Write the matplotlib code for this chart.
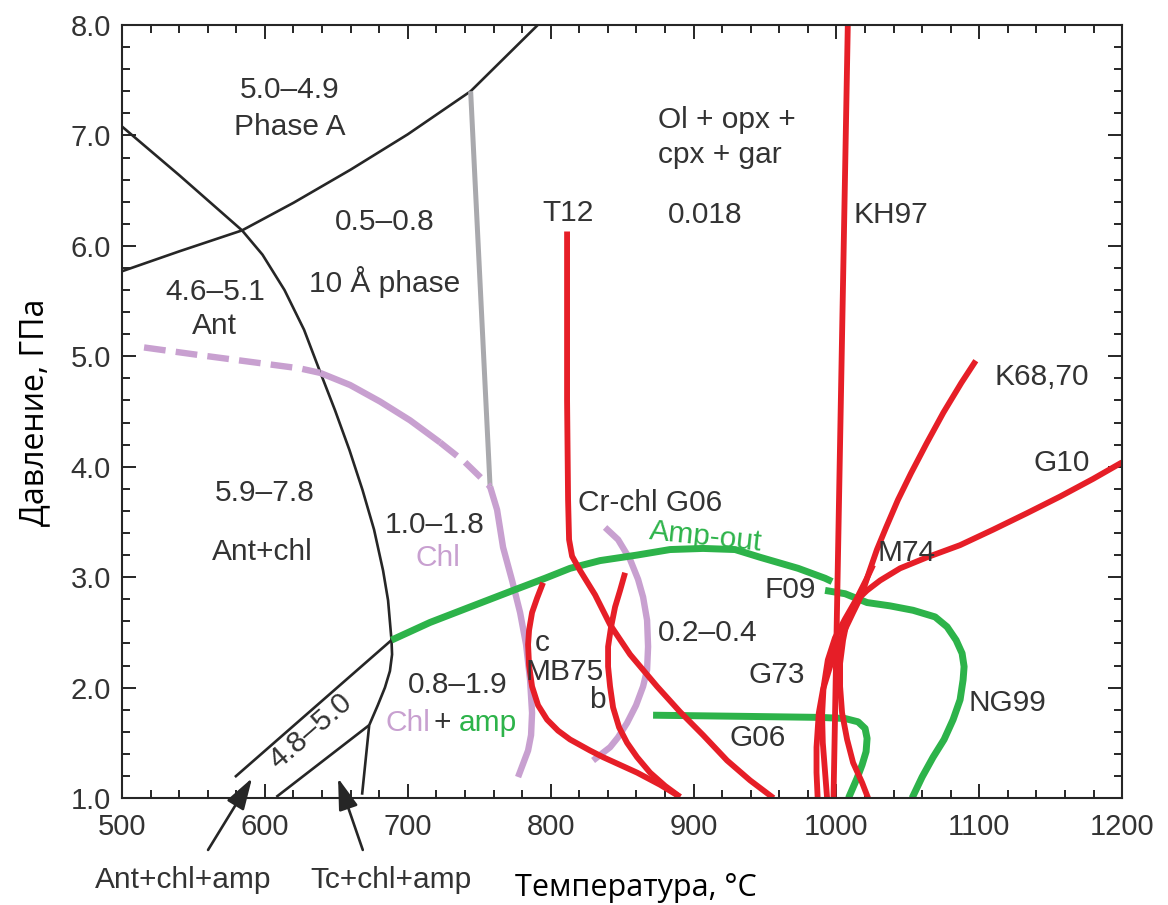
import matplotlib
matplotlib.use("Agg")
import matplotlib.pyplot as plt
from matplotlib.ticker import MultipleLocator, FormatStrFormatter

# ---- phase boundaries, T in °C, P in GPa ----
ant_T = [500, 540, 584, 598.3, 613.7, 627.4, 638.6, 649.1, 659.2, 668.3, 676.4, 682.7, 686.2, 688.6]
ant_P = [7.08, 6.64, 6.14, 5.92, 5.60, 5.24, 4.86, 4.51, 4.15, 3.79, 3.43, 3.06, 2.79, 2.43]

ant_low_T = [688.6, 689, 687.5, 684, 679, 673, 668]
ant_low_P = [2.43, 2.30, 2.15, 2.0, 1.84, 1.66, 1.03]

phase_a_T = [500, 540, 584, 620, 660, 700, 744, 791]
phase_a_P = [5.77, 5.95, 6.14, 6.39, 6.69, 7.01, 7.40, 8.0]

amp_in_T = [688.6, 579]
amp_in_P = [2.43, 1.19]
tc_T = [673, 608]
tc_P = [1.66, 1.01]

ten_a_T = [744, 757.6]
ten_a_P = [7.40, 3.82]

chl_T = [515.4, 554.6, 589.6, 624.6, 638.6, 659.6, 680.6, 701.6, 722.6, 740.1, 757.6,
         762.5, 766.7, 773, 778.6, 782.8, 785.6, 787, 786.3, 784.2, 777.2]
chl_P = [5.08, 5.01, 4.95, 4.89, 4.85, 4.74, 4.59, 4.42, 4.22, 4.04, 3.82,
         3.61, 3.27, 2.97, 2.68, 2.39, 2.07, 1.77, 1.57, 1.43, 1.19]

crchl_T = [838.1, 847.2, 855.6, 861.2, 864.7, 867.5, 868.2, 867.5, 864.7, 859.8, 853.5, 847.2, 841.6, 829.7]
crchl_P = [3.45, 3.34, 3.16, 2.98, 2.82, 2.61, 2.37, 2.16, 2.01, 1.84, 1.68, 1.55, 1.46, 1.34]

amp_out_T = [688.6, 715.6, 743.6, 773.7, 796.1, 813.6, 834.6, 860.5, 883.6, 906.7, 929.1, 946.6, 973.2, 992.1, 997]
amp_out_P = [2.43, 2.59, 2.73, 2.88, 2.99, 3.08, 3.15, 3.20, 3.25, 3.26, 3.25, 3.18, 3.08, 2.99, 2.96]

ng99_T = [992.1, 1006.1, 1021.5, 1037.6, 1053.7, 1069.1, 1077.5, 1083.8, 1088, 1089.4, 1088.7,
          1086.6, 1081.7, 1075.4, 1067.7, 1060, 1053]
ng99_P = [2.88, 2.85, 2.77, 2.74, 2.70, 2.64, 2.55, 2.43, 2.31, 2.19, 2.07,
          1.89, 1.71, 1.53, 1.37, 1.19, 1.0]

g06_T = [871.7, 932.6, 989.3, 1006.1, 1015.2, 1020.1, 1021.5, 1020.8, 1018, 1014.5, 1008.5]
g06_P = [1.75, 1.74, 1.73, 1.72, 1.69, 1.63, 1.54, 1.42, 1.30, 1.18, 1.0]

# ---- solidi ----
t12_T = [811.5, 811.5, 812.2, 812.9, 815, 820.6, 831.1, 841.6, 855.6, 874.5, 890.6, 906.7, 923.5, 939.6, 956]
t12_P = [6.13, 4.60, 3.70, 3.34, 3.19, 3.06, 2.84, 2.57, 2.30, 2.01, 1.78, 1.57, 1.34, 1.16, 1.0]

mb75c_T = [794.7, 790.5, 787, 784.9, 784.2, 784.9, 787, 791.2, 797.5, 805.2, 813.6,
           827.6, 836.7, 848.6, 860.5, 876.6, 890.6]
mb75c_P = [2.95, 2.81, 2.68, 2.52, 2.39, 2.20, 2.01, 1.84, 1.71, 1.61, 1.53,
           1.43, 1.37, 1.30, 1.23, 1.12, 1.01]

mb75b_T = [852.1, 848.6, 845.1, 842.3, 840.2, 840.2, 841.6, 843.7, 847.9, 853.5, 860.5, 869.6, 880.1, 890.6]
mb75b_P = [3.04, 2.88, 2.73, 2.55, 2.37, 2.19, 2.01, 1.82, 1.64, 1.50, 1.37, 1.23, 1.11, 1.01]

kh97_T = [1008, 998]
kh97_P = [8.0, 1.0]

k68_T = [1097.6, 1087.5, 1074.9, 1063.1, 1052.2, 1043.1, 1034.8, 1028.4, 1023.3, 1018.7,
         1015.5, 1011.7, 1004.7, 996.3, 990.6, 987.7, 986.1, 986.1, 986.9]
k68_P = [4.96, 4.76, 4.49, 4.21, 3.94, 3.70, 3.45, 3.25, 3.06, 2.88,
         2.78, 2.68, 2.49, 2.22, 1.98, 1.77, 1.46, 1.23, 1.0]

m74_T = [1025.7, 1021, 1014, 1006, 999, 994, 991, 990, 990.5, 992, 993.5]
m74_P = [3.11, 2.98, 2.80, 2.62, 2.45, 2.25, 2.0, 1.75, 1.5, 1.25, 1.0]

g10_T = [1200, 1179.7, 1156.6, 1133.5, 1109.7, 1086.6, 1063.5, 1044.6, 1030.6, 1021.5, 1016.6,
         1011.7, 1007.5, 1004.7, 1002.6, 1002.6, 1004, 1007.5, 1011.7, 1018, 1022.2]
g10_P = [4.04, 3.89, 3.73, 3.58, 3.43, 3.29, 3.18, 3.08, 2.97, 2.88, 2.82,
         2.73, 2.61, 2.43, 2.22, 2.01, 1.77, 1.53, 1.32, 1.14, 1.0]

RED = "#e61e27"
GREEN = "#2db34a"
PINK = "#c8a0d0"
GREY = "#a9a9ad"
INK = "#262626"
TXT = "#333333"
FONT = "Liberation Sans"
FS = 21.5

fig = plt.figure(figsize=(11.68, 9.05), dpi=100)
ax = fig.add_axes([0.1045, 0.1182, 0.8562, 0.8542])

kw = dict(solid_capstyle="butt", solid_joinstyle="round")

# black reaction lines
for T, P in [(ant_T, ant_P), (ant_low_T, ant_low_P), (phase_a_T, phase_a_P),
             (amp_in_T, amp_in_P), (tc_T, tc_P)]:
    ax.plot(T, P, color=INK, lw=1.9, **kw)

ax.plot(ten_a_T, ten_a_P, color=GREY, lw=3.6, **kw)

# chlorite-out: dashed where extrapolated
dash = dict(color=PINK, lw=4.6, dashes=(3.4, 1.6), dash_capstyle="butt")
ax.plot(chl_T[0:5], chl_P[0:5], **dash)
ax.plot(chl_T[4:9], chl_P[4:9], color=PINK, lw=4.6, **kw)
ax.plot(chl_T[8:11], chl_P[8:11], **dash)
ax.plot(chl_T[10:], chl_P[10:], color=PINK, lw=4.6, **kw)
ax.plot(crchl_T, crchl_P, color=PINK, lw=4.6, **kw)

for T, P in [(amp_out_T, amp_out_P), (ng99_T, ng99_P), (g06_T, g06_P)]:
    ax.plot(T, P, color=GREEN, lw=5.0, **kw)

for T, P in [(t12_T, t12_P), (mb75c_T, mb75c_P), (mb75b_T, mb75b_P),
             (kh97_T, kh97_P), (k68_T, k68_P), (m74_T, m74_P), (g10_T, g10_P)]:
    ax.plot(T, P, color=RED, lw=4.2, **kw)

# field and curve labels: text, T, P, colour, ha
labels = [
    ("5.0–4.9", 617.6, 7.41, TXT, "center"),
    ("Phase A", 617.6, 7.08, TXT, "center"),
    ("0.5–0.8", 684, 6.22, TXT, "center"),
    ("10 Å phase", 684, 5.67, TXT, "center"),
    ("4.6–5.1", 565, 5.58, TXT, "center"),
    ("Ant", 565, 5.27, TXT, "center"),
    ("5.9–7.8", 600, 3.76, TXT, "center"),
    ("Ant+chl", 598, 3.23, TXT, "center"),
    ("1.0–1.8", 719, 3.47, TXT, "center"),
    ("Chl", 721, 3.17, PINK, "center"),
    ("0.8–1.9", 735, 2.02, TXT, "center"),
    ("Chl", 700, 1.68, PINK, "center"),
    ("+", 724, 1.68, TXT, "center"),
    ("amp", 756, 1.68, GREEN, "center"),
    ("T12", 812, 6.3, TXT, "center"),
    ("0.018", 908, 6.28, TXT, "center"),
    ("Ol + opx +", 875, 7.14, TXT, "left"),
    ("cpx + gar", 875, 6.82, TXT, "left"),
    ("KH97", 1012, 6.28, TXT, "left"),
    ("K68,70", 1111, 4.81, TXT, "left"),
    ("G10", 1158, 4.03, TXT, "center"),
    ("M74", 1029, 3.22, TXT, "left"),
    ("F09", 967.6, 2.88, TXT, "center"),
    ("0.2–0.4", 910, 2.49, TXT, "center"),
    ("G73", 958.5, 2.11, TXT, "center"),
    ("NG99", 1120, 1.86, TXT, "center"),
    ("G06", 945, 1.54, TXT, "center"),
    ("Cr-chl G06", 869.6, 3.67, TXT, "center"),
    ("c", 794, 2.4, TXT, "center"),
    ("MB75", 810, 2.14, TXT, "center"),
    ("b", 832.5, 1.89, TXT, "center"),
]
for s, T, P, c, ha in labels:
    ax.text(T, P, s, color=c, ha=ha, va="center", fontsize=FS, family=FONT)

ax.text(908.8, 3.36, "Amp-out", color=GREEN, ha="center", va="center",
        fontsize=FS, rotation=-6, family=FONT)
ax.text(632, 1.6, "4.8–5.0", color=TXT, ha="center", va="center",
        fontsize=FS, rotation=41, family=FONT)

# assemblages below the T axis, with arrows into the narrow fields
arrow = dict(arrowstyle="-|>,head_length=0.8,head_width=0.25", color=INK,
             lw=1.9, mutation_scale=24, shrinkA=0, shrinkB=0)
ax.annotate("", xy=(591, 1.18), xytext=(560.2, 0.53), arrowprops=arrow,
            annotation_clip=False)
ax.annotate("", xy=(651.2, 1.18), xytext=(668.5, 0.53), arrowprops=arrow,
            annotation_clip=False)
ax.text(542.7, 0.26, "Ant+chl+amp", color=TXT, ha="center", va="center",
        fontsize=FS, family=FONT, clip_on=False)
ax.text(688.3, 0.26, "Tc+chl+amp", color=TXT, ha="center", va="center",
        fontsize=FS, family=FONT, clip_on=False)

ax.set_xlim(500, 1200)
ax.set_ylim(1, 8)
ax.xaxis.set_major_locator(MultipleLocator(100))
ax.xaxis.set_minor_locator(MultipleLocator(20))
ax.yaxis.set_major_locator(MultipleLocator(1))
ax.yaxis.set_minor_locator(MultipleLocator(0.2))
ax.yaxis.set_major_formatter(FormatStrFormatter("%.1f"))
ax.tick_params(which="both", direction="in", top=True, right=True,
               color=INK, width=1.4)
ax.tick_params(which="major", length=10, labelsize=21, labelcolor=TXT)
ax.tick_params(which="minor", length=6)
ax.tick_params(axis="x", which="major", pad=11)
ax.tick_params(axis="y", which="major", pad=8)
for lab in ax.get_xticklabels() + ax.get_yticklabels():
    lab.set_family(FONT)
for sp in ax.spines.values():
    sp.set_linewidth(1.5)
    sp.set_color(INK)

fig.text(636 / 1168, 1 - 888 / 905, "Температура, °C", ha="center",
         va="center", fontsize=22, family="Open Sans", color="black")
fig.text(35 / 1168, 1 - 412 / 905, "Давление, ГПа", ha="center",
         va="center", rotation=90, fontsize=23, family="Open Sans",
         color="black")

fig.savefig("out.png", dpi=100)
